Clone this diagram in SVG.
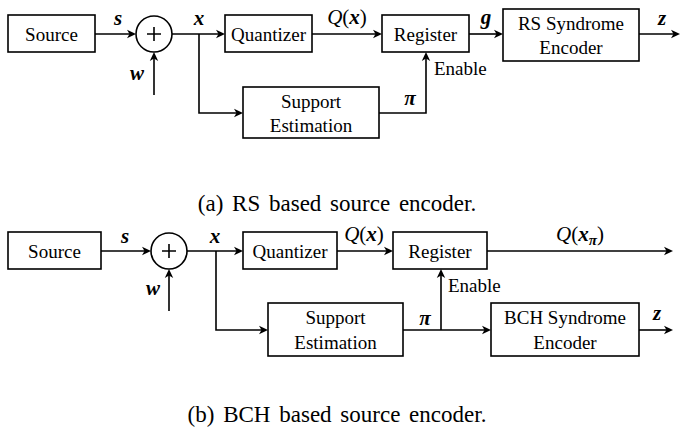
<svg xmlns="http://www.w3.org/2000/svg" width="681" height="436" viewBox="0 0 681 436">
<g font-family="Liberation Serif" fill="#000">
<g font-size="19" text-anchor="middle">
<g id="a-source"><rect fill="#fff" stroke="#000" stroke-width="1.6" x="8" y="15" width="87" height="37"/><text x="51.5" y="40.5">Source</text></g>
<g id="a-sum"><circle fill="#fff" stroke="#000" stroke-width="1.6" cx="154" cy="34" r="18"/><path fill="none" stroke="#000" stroke-width="1.6" d="M147,34 H161 M154,27 V41"/></g>
<g id="a-quant"><rect fill="#fff" stroke="#000" stroke-width="1.6" x="225" y="15" width="87" height="37"/><text x="268.5" y="40.5">Quantizer</text></g>
<g id="a-reg"><rect fill="#fff" stroke="#000" stroke-width="1.6" x="382" y="15" width="87" height="37"/><text x="425.5" y="40.5">Register</text></g>
<g id="a-rs"><rect fill="#fff" stroke="#000" stroke-width="1.6" x="503" y="9" width="136" height="52"/><text x="571" y="29.5">RS Syndrome</text><text x="571" y="53.5">Encoder</text></g>
<g id="a-supp"><rect fill="#fff" stroke="#000" stroke-width="1.6" x="243" y="87" width="136" height="51"/><text x="311" y="107.5">Support</text><text x="311" y="131.5">Estimation</text></g>
</g>
<g id="a-connectors">
<g fill="none" stroke="#000" stroke-width="1.6">
<line x1="95" y1="34" x2="132" y2="34"/>
<line x1="154" y1="95" x2="154" y2="56"/>
<line x1="172" y1="34" x2="221" y2="34"/>
<polyline points="199,34 199,113 239,113"/>
<line x1="312" y1="34" x2="378" y2="34"/>
<line x1="469" y1="34" x2="499" y2="34"/>
<line x1="639" y1="34" x2="676" y2="34"/>
<polyline points="379,113 426,113 426,56"/>
</g>
<g fill="#000" stroke="none">
<path d="M136,34 L127,29.8 L129.5,34 L127,38.2 Z"/>
<path d="M154,52 L149.8,61 L154,58.5 L158.2,61 Z"/>
<path d="M225,34 L216,29.8 L218.5,34 L216,38.2 Z"/>
<path d="M243,113 L234,108.8 L236.5,113 L234,117.2 Z"/>
<path d="M382,34 L373,29.8 L375.5,34 L373,38.2 Z"/>
<path d="M503,34 L494,29.8 L496.5,34 L494,38.2 Z"/>
<path d="M680,34 L671,29.8 L673.5,34 L671,38.2 Z"/>
<path d="M426,52 L421.8,61 L426,58.5 L430.2,61 Z"/>
</g>
</g>
<g id="a-labels" font-size="21" text-anchor="middle">
<g font-weight="bold" font-style="italic">
<text x="118" y="25">s</text>
<text x="137" y="80">w</text>
<text x="199" y="25">x</text>
<text x="486" y="24">g</text>
<text x="662" y="25">z</text>
<text x="410" y="105">π</text>
</g>
<text x="347" y="24"><tspan font-style="italic">Q</tspan>(<tspan font-weight="bold" font-style="italic">x</tspan>)</text>
<text x="434" y="75" font-size="19" text-anchor="start">Enable</text>
</g>
<text x="337" y="211" font-size="23" text-anchor="middle" word-spacing="3">(a) RS based source encoder.</text>
<g font-size="19" text-anchor="middle">
<g id="b-source"><rect fill="#fff" stroke="#000" stroke-width="1.6" x="8" y="232" width="93" height="37"/><text x="54.5" y="257.5">Source</text></g>
<g id="b-sum"><circle fill="#fff" stroke="#000" stroke-width="1.6" cx="169" cy="251" r="18"/><path fill="none" stroke="#000" stroke-width="1.6" d="M162,251 H176 M169,244 V258"/></g>
<g id="b-quant"><rect fill="#fff" stroke="#000" stroke-width="1.6" x="243" y="232" width="94" height="37"/><text x="290" y="257.5">Quantizer</text></g>
<g id="b-reg"><rect fill="#fff" stroke="#000" stroke-width="1.6" x="393" y="232" width="94" height="37"/><text x="440" y="257.5">Register</text></g>
<g id="b-supp"><rect fill="#fff" stroke="#000" stroke-width="1.6" x="268" y="303" width="135" height="53"/><text x="335.5" y="323.5">Support</text><text x="335.5" y="349">Estimation</text></g>
<g id="b-bch"><rect fill="#fff" stroke="#000" stroke-width="1.6" x="491" y="303" width="148" height="53"/><text x="565" y="323.5">BCH Syndrome</text><text x="565" y="349">Encoder</text></g>
</g>
<g id="b-connectors">
<g fill="none" stroke="#000" stroke-width="1.6">
<line x1="101" y1="251" x2="147" y2="251"/>
<line x1="169" y1="311" x2="169" y2="273"/>
<line x1="187" y1="251" x2="239" y2="251"/>
<polyline points="216,251 216,330 264,330"/>
<line x1="337" y1="251" x2="389" y2="251"/>
<line x1="487" y1="251" x2="669" y2="251"/>
<line x1="403" y1="330" x2="487" y2="330"/>
<line x1="441" y1="330" x2="441" y2="273"/>
<line x1="639" y1="330" x2="669" y2="330"/>
</g>
<g fill="#000" stroke="none">
<path d="M151,251 L142,246.8 L144.5,251 L142,255.2 Z"/>
<path d="M169,269 L164.8,278 L169,275.5 L173.2,278 Z"/>
<path d="M243,251 L234,246.8 L236.5,251 L234,255.2 Z"/>
<path d="M268,330 L259,325.8 L261.5,330 L259,334.2 Z"/>
<path d="M393,251 L384,246.8 L386.5,251 L384,255.2 Z"/>
<path d="M673,251 L664,246.8 L666.5,251 L664,255.2 Z"/>
<path d="M491,330 L482,325.8 L484.5,330 L482,334.2 Z"/>
<path d="M441,269 L436.8,278 L441,275.5 L445.2,278 Z"/>
<path d="M673,330 L664,325.8 L666.5,330 L664,334.2 Z"/>
</g>
</g>
<g id="b-labels" font-size="21" text-anchor="middle">
<g font-weight="bold" font-style="italic">
<text x="125" y="243">s</text>
<text x="153" y="295">w</text>
<text x="215" y="243">x</text>
<text x="425" y="325">π</text>
<text x="657" y="320">z</text>
</g>
<text x="364" y="241"><tspan font-style="italic">Q</tspan>(<tspan font-weight="bold" font-style="italic">x</tspan>)</text>
<text x="580" y="241"><tspan font-style="italic">Q</tspan>(<tspan font-weight="bold" font-style="italic">x</tspan><tspan font-weight="bold" font-style="italic" font-size="15" dy="4">π</tspan><tspan dy="-4">)</tspan></text>
<text x="448" y="291.5" font-size="19" text-anchor="start">Enable</text>
</g>
<text x="337" y="422" font-size="23" text-anchor="middle" word-spacing="3">(b) BCH based source encoder.</text>
</g>
</svg>
